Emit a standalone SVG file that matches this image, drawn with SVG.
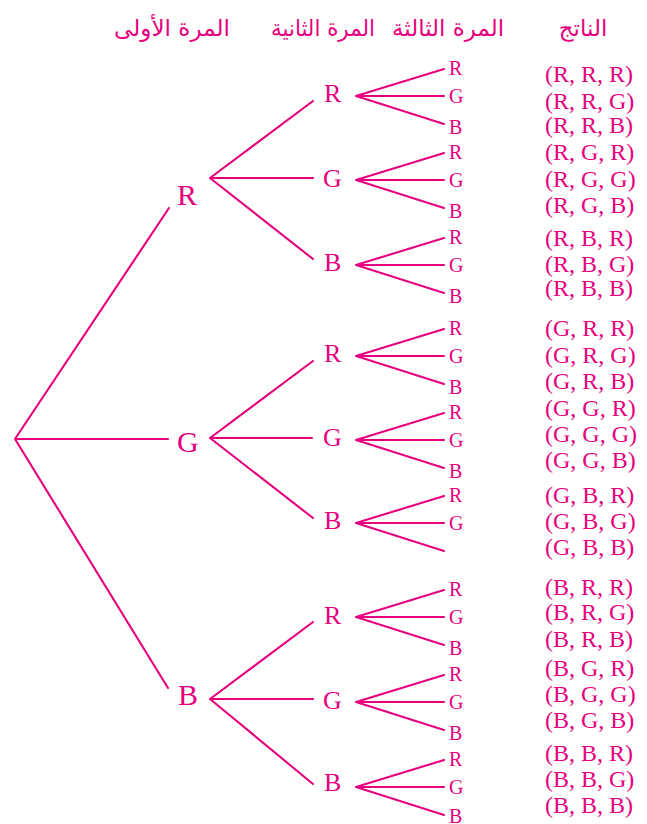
<svg xmlns="http://www.w3.org/2000/svg" width="647" height="824" viewBox="0 0 647 824">
<style>
.ln{stroke:#e6007e;stroke-width:2.1;fill:none;stroke-linecap:round}
text{fill:#e6007e;font-family:"Liberation Serif","DejaVu Serif",serif}
.h{font-family:"DejaVu Sans",sans-serif;font-size:23px;text-anchor:middle;direction:rtl}
.l1{font-size:30px}
.l2{font-size:26px}
.l3{font-size:20px}
.t{font-size:24px}
</style>
<rect width="647" height="824" fill="#ffffff"/>
<g id="headers">
<text class="h" x="172" y="36" textLength="116" lengthAdjust="spacingAndGlyphs">المرة الأولى</text>
<text class="h" x="323" y="36" textLength="104" lengthAdjust="spacingAndGlyphs">المرة الثانية</text>
<text class="h" x="448" y="36" textLength="112" lengthAdjust="spacingAndGlyphs">المرة الثالثة</text>
<text class="h" x="583" y="36">الناتج</text>
</g>
<g id="connectors">
<path class="ln" d="M15 439L169 208M15 439L168 439M15 439L168 688"/>
<path class="ln" d="M210 178L313 101M210 178L313 178M210 178L313 259"/>
<path class="ln" d="M210 438L313 361M210 438L312 438M210 438L313 518"/>
<path class="ln" d="M210 699L313 622M210 699L313 699M210 699L313 784"/>
<path class="ln" d="M356 96L444 69M356 96L444 96M356 96L444 124"/>
<path class="ln" d="M356 180L444 153M356 180L444 180M356 180L444 208"/>
<path class="ln" d="M356 265L444 238M356 265L444 265M356 265L444 293"/>
<path class="ln" d="M356 356L444 329M356 356L444 356M356 356L444 384"/>
<path class="ln" d="M356 440L444 413M356 440L444 440M356 440L444 468"/>
<path class="ln" d="M356 523L444 496M356 523L444 523M356 523L444 551"/>
<path class="ln" d="M356 617L444 590M356 617L444 617M356 617L444 645"/>
<path class="ln" d="M356 702L444 675M356 702L444 702M356 702L444 730"/>
<path class="ln" d="M356 787L444 760M356 787L444 787M356 787L444 815"/>
</g>
<g id="level1">
<text class="l1" x="177" y="205">R</text>
<text class="l1" x="177" y="452">G</text>
<text class="l1" x="178" y="705">B</text>
</g>
<g id="level2">
<text class="l2" x="324" y="102">R</text>
<text class="l2" x="323" y="187">G</text>
<text class="l2" x="324" y="271">B</text>
<text class="l2" x="324" y="362">R</text>
<text class="l2" x="323" y="446">G</text>
<text class="l2" x="324" y="529">B</text>
<text class="l2" x="324" y="624">R</text>
<text class="l2" x="323" y="709">G</text>
<text class="l2" x="324" y="791">B</text>
</g>
<g id="level3">
<text class="l3" x="449" y="75">R</text><text class="l3" x="449" y="103">G</text><text class="l3" x="449" y="134">B</text>
<text class="l3" x="449" y="159">R</text><text class="l3" x="449" y="187">G</text><text class="l3" x="449" y="218">B</text>
<text class="l3" x="449" y="244">R</text><text class="l3" x="449" y="272">G</text><text class="l3" x="449" y="303">B</text>
<text class="l3" x="449" y="335">R</text><text class="l3" x="449" y="363">G</text><text class="l3" x="449" y="394">B</text>
<text class="l3" x="449" y="419">R</text><text class="l3" x="449" y="447">G</text><text class="l3" x="449" y="478">B</text>
<text class="l3" x="449" y="502">R</text><text class="l3" x="449" y="530">G</text>
<text class="l3" x="449" y="596">R</text><text class="l3" x="449" y="624">G</text><text class="l3" x="449" y="655">B</text>
<text class="l3" x="449" y="681">R</text><text class="l3" x="449" y="709">G</text><text class="l3" x="449" y="740">B</text>
<text class="l3" x="449" y="766">R</text><text class="l3" x="449" y="794">G</text><text class="l3" x="449" y="823">B</text>
</g>
<g id="outcomes">
<text class="t" x="545" y="82">(R, R, R)</text>
<text class="t" x="545" y="109">(R, R, G)</text>
<text class="t" x="545" y="133">(R, R, B)</text>
<text class="t" x="545" y="160">(R, G, R)</text>
<text class="t" x="545" y="187">(R, G, G)</text>
<text class="t" x="545" y="213">(R, G, B)</text>
<text class="t" x="545" y="246">(R, B, R)</text>
<text class="t" x="545" y="272">(R, B, G)</text>
<text class="t" x="545" y="296">(R, B, B)</text>
<text class="t" x="545" y="336">(G, R, R)</text>
<text class="t" x="545" y="363">(G, R, G)</text>
<text class="t" x="545" y="389">(G, R, B)</text>
<text class="t" x="545" y="416">(G, G, R)</text>
<text class="t" x="545" y="442">(G, G, G)</text>
<text class="t" x="545" y="468">(G, G, B)</text>
<text class="t" x="545" y="503">(G, B, R)</text>
<text class="t" x="545" y="529">(G, B, G)</text>
<text class="t" x="545" y="555">(G, B, B)</text>
<text class="t" x="545" y="595">(B, R, R)</text>
<text class="t" x="545" y="620">(B, R, G)</text>
<text class="t" x="545" y="647">(B, R, B)</text>
<text class="t" x="545" y="676">(B, G, R)</text>
<text class="t" x="545" y="702">(B, G, G)</text>
<text class="t" x="545" y="728">(B, G, B)</text>
<text class="t" x="545" y="761">(B, B, R)</text>
<text class="t" x="545" y="787">(B, B, G)</text>
<text class="t" x="545" y="813">(B, B, B)</text>
</g>
</svg>
